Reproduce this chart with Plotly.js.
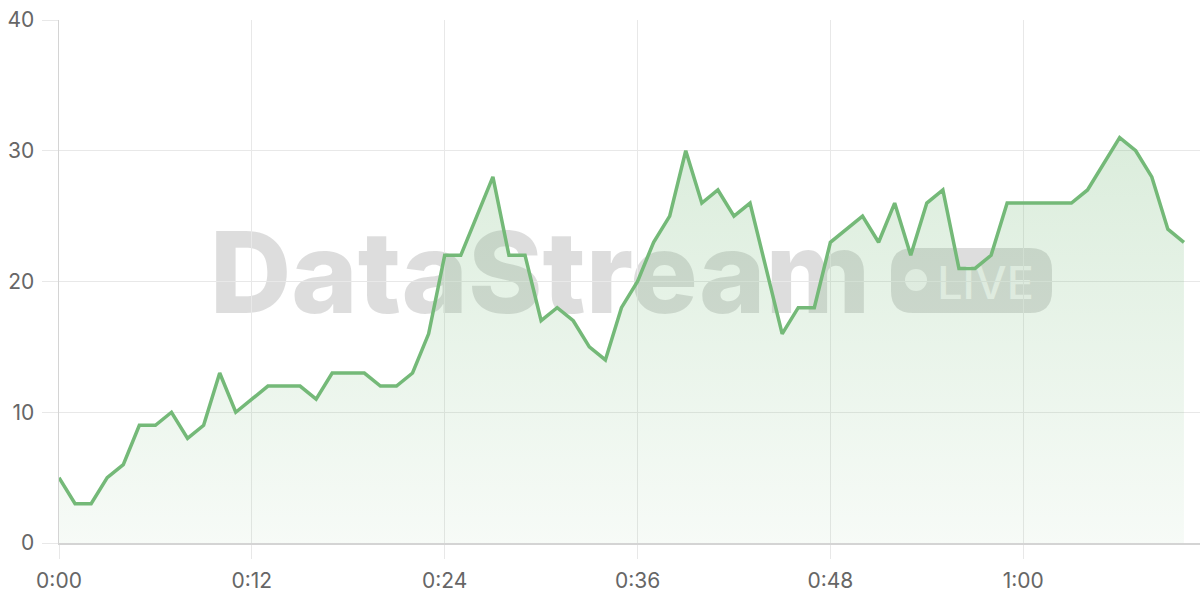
<!DOCTYPE html>
<html>
<head>
<meta charset="utf-8">
<script src="https://cdn.plot.ly/plotly-3.0.1.min.js"></script>
<style>
  html, body { margin: 0; padding: 0; background: #fff; }
  #chart { width: 1200px; height: 600px; }
</style>
</head>
<body>
<div id="chart"></div>
<script>
// Elapsed seconds for each sample
const seconds = [];
for (let s = 0; s <= 70; s++) seconds.push(s);

// Sampled values
const values = [
  5, 3, 3, 5, 6, 9, 9, 10, 8, 9,
  13, 10, 11, 12, 12, 12, 11, 13, 13, 13,
  12, 12, 13, 16, 22, 22, 25, 28, 22, 22,
  17, 18, 17, 15, 14, 18, 20, 23, 25, 30,
  26, 27, 25, 26, 21, 16, 18, 18, 23, 24,
  25, 23, 26, 22, 26, 27, 21, 21, 22, 26,
  26, 26, 26, 26, 27, 29, 31, 30, 28, 24,
  23
];

const xTickVals = [0, 12, 24, 36, 48, 60];
const xTickText = ['0:00', '0:12', '0:24', '0:36', '0:48', '1:00'];
const yTickVals = [0, 10, 20, 30, 40];

const watermarkText = 'DataStream';
const badgeText = 'LIVE';

// Rounded rectangle path in paper coordinates
function roundRect(x0, y0, x1, y1, rx, ry) {
  return 'M' + (x0 + rx) + ',' + y0 +
    ' L' + (x1 - rx) + ',' + y0 +
    ' Q' + x1 + ',' + y0 + ' ' + x1 + ',' + (y0 + ry) +
    ' L' + x1 + ',' + (y1 - ry) +
    ' Q' + x1 + ',' + y1 + ' ' + (x1 - rx) + ',' + y1 +
    ' L' + (x0 + rx) + ',' + y1 +
    ' Q' + x0 + ',' + y1 + ' ' + x0 + ',' + (y1 - ry) +
    ' L' + x0 + ',' + (y0 + ry) +
    ' Q' + x0 + ',' + y0 + ' ' + (x0 + rx) + ',' + y0 + ' Z';
}

const W = 1141, H = 523, L = 59, B = 543;
const px = v => (v - L) / W;
const py = v => (B - v) / H;

const trace = {
  x: seconds,
  y: values,
  type: 'scatter',
  mode: 'lines',
  line: { color: '#74b978', width: 3.5, shape: 'linear' },
  fill: 'tozeroy',
  fillgradient: {
    type: 'vertical',
    start: 0,
    stop: 31,
    colorscale: [
      [0, 'rgba(116,185,120,0.06)'],
      [1, 'rgba(116,185,120,0.26)']
    ]
  },
  hoverinfo: 'skip'
};

const gridColor = '#e8e8e8';
const axisColor = '#d4d4d4';
const tickFont = { family: 'Inter, "Open Sans", sans-serif', size: 21, color: '#666666' };

const layout = {
  width: 1200,
  height: 600,
  margin: { l: 59, r: 0, t: 20, b: 57 },
  paper_bgcolor: '#ffffff',
  plot_bgcolor: '#ffffff',
  showlegend: false,
  xaxis: {
    range: [0, 71],
    tickvals: xTickVals,
    ticktext: xTickText,
    showgrid: true,
    gridcolor: gridColor,
    gridwidth: 1,
    zeroline: false,
    showline: true,
    linecolor: axisColor,
    linewidth: 1.5,
    ticks: 'outside',
    ticklen: 14,
    tickcolor: gridColor,
    tickwidth: 1,
    tickfont: tickFont,
    ticklabelstandoff: 4,
    fixedrange: true
  },
  yaxis: {
    range: [0, 40],
    tickvals: yTickVals,
    showgrid: true,
    gridcolor: gridColor,
    gridwidth: 1,
    zeroline: false,
    showline: true,
    linecolor: axisColor,
    linewidth: 1.5,
    ticks: 'outside',
    ticklen: 16,
    tickcolor: gridColor,
    tickwidth: 1,
    tickfont: tickFont,
    ticklabelstandoff: 3,
    fixedrange: true
  },
  shapes: [
    {
      type: 'rect', xref: 'paper', yref: 'paper', layer: 'between',
      x0: px(180), x1: px(900), y0: py(328), y1: py(208),
      line: { width: 0 }, fillcolor: 'rgba(0,0,0,0)',
      label: {
        text: watermarkText,
        textposition: 'middle center',
        font: { family: 'Inter, Roboto, sans-serif', size: 113, color: 'rgba(0,0,0,0.135)', weight: 800 }
      }
    },
    {
      type: 'path', xref: 'paper', yref: 'paper', layer: 'between',
      path: roundRect(px(891), py(313), px(1052), py(248), 22 / W, 22 / H),
      line: { width: 0 }, fillcolor: 'rgba(0,0,0,0.135)'
    },
    {
      type: 'circle', xref: 'paper', yref: 'paper', layer: 'between',
      x0: px(905), x1: px(927), y0: py(291), y1: py(269),
      line: { width: 0 }, fillcolor: 'rgba(255,255,255,0.75)'
    },
    {
      type: 'rect', xref: 'paper', yref: 'paper', layer: 'between',
      x0: px(935), x1: px(1036), y0: py(305), y1: py(257),
      line: { width: 0 }, fillcolor: 'rgba(0,0,0,0)',
      label: {
        text: badgeText,
        textposition: 'middle center',
        font: { family: 'Inter, Roboto, sans-serif', size: 45, color: 'rgba(255,255,255,0.75)', weight: 500 }
      }
    }
  ]
};

Plotly.newPlot('chart', [trace], layout, { displayModeBar: false, staticPlot: true });
</script>
</body>
</html>
